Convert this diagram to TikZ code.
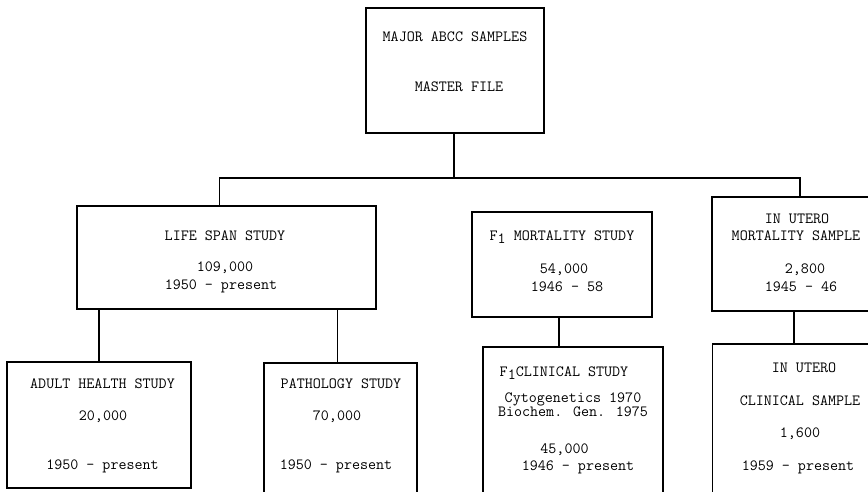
\documentclass[tikz,border=0pt]{standalone}
\usepackage{fontspec}
\usepackage{tikz}
\usetikzlibrary{positioning}

\tikzset{
  samplebox/.style={draw, line width=1.4pt, rectangle, inner sep=0pt},
  boxtext/.style={font=\ttfamily\fontsize{15.6}{18}\selectfont, inner sep=0pt},
  link/.style={line width=1.4pt},
}
\newcommand{\lowone}{\raisebox{-0.5ex}{1}}

\begin{document}
\begin{tikzpicture}[x=1pt, y=-1pt]
\useasboundingbox (0,0) rectangle (868,491);
\clip (0,0) rectangle (868,491);

% boxes
\node[samplebox, minimum width=178pt, minimum height=125pt] (master) at (455,70.5) {};
\node[samplebox, minimum width=299pt, minimum height=103pt] (lss) at (226.5,257.5) {};
\node[samplebox, minimum width=180pt, minimum height=105pt] (fmort) at (562,264.5) {};
\node[samplebox, minimum width=176pt, minimum height=114pt] (utmort) at (800,254) {};
\node[samplebox, minimum width=184pt, minimum height=126pt] (ahs) at (99,425) {};
\node[samplebox, minimum width=153pt, minimum height=140pt] (path) at (340.5,433) {};
\node[samplebox, minimum width=180pt, minimum height=166pt] (fclin) at (573,430) {};
\node[samplebox, minimum width=175pt, minimum height=172pt] (utclin) at (800,430) {};

% texts
\node[boxtext] (mastera) at (455,37) {MAJOR ABCC SAMPLES};
\node[boxtext] (masterb) at (459,87) {MASTER FILE};

\node[boxtext] (lssa) at (225,236) {LIFE SPAN STUDY};
\node[boxtext] (lssb) at (225,268) {109,000};
\node[boxtext] (lssc) at (221,286) {1950 - present};

\node[boxtext] (fmorta) at (562,237) {F\lowone{} MORTALITY STUDY};
\node[boxtext] (fmortb) at (564,270) {54,000};
\node[boxtext] (fmortc) at (567,287) {1946 - 58};

\node[boxtext] (utmorta) at (797,219) {IN UTERO};
\node[boxtext] (utmortb) at (796,236) {MORTALITY SAMPLE};
\node[boxtext] (utmortc) at (805,270) {2,800};
\node[boxtext] (utmortd) at (801,287) {1945 - 46};

\node[boxtext] (ahsa) at (102.5,384) {ADULT HEALTH STUDY};
\node[boxtext] (ahsb) at (103,417) {20,000};
\node[boxtext] (ahsc) at (102.5,466) {1950 - present};

\node[boxtext] (patha) at (341,384) {PATHOLOGY STUDY};
\node[boxtext] (pathb) at (337,417) {70,000};
\node[boxtext] (pathc) at (336,466) {1950 - present};

\node[boxtext] (fclina) at (564,373) {F\lowone CLINICAL STUDY};
\node[boxtext] (fclinb) at (573,399) {Cytogenetics 1970};
\node[boxtext] (fclinc) at (573,412) {Biochem. Gen. 1975};
\node[boxtext] (fclind) at (564.5,450) {45,000};
\node[boxtext] (fcline) at (578,467) {1946 - present};

\node[boxtext] (utclina) at (804,368) {IN UTERO};
\node[boxtext] (utclinb) at (800,401) {CLINICAL SAMPLE};
\node[boxtext] (utclinc) at (800,434) {1,600};
\node[boxtext] (utclind) at (798,467) {1959 - present};

% connectors
\coordinate (bus) at (454,178);
\draw[link] (master.south -| bus) -- (bus);
\draw[link] ([xshift=-7pt]lss.north) |- (bus) -| (utmort.north);
\draw[link] (ahs.north) -- (ahs.north |- lss.south);
\draw[link] ([xshift=-3pt]path.north) -- ([xshift=-3pt]path.north |- lss.south);
\draw[link] ([xshift=-3pt]fmort.south) -- ([xshift=-3pt]fmort.south |- fclin.north);
\draw[link] ([xshift=-6pt]utmort.south) -- ([xshift=-6pt]utmort.south |- utclin.north);
\end{tikzpicture}
\end{document}
